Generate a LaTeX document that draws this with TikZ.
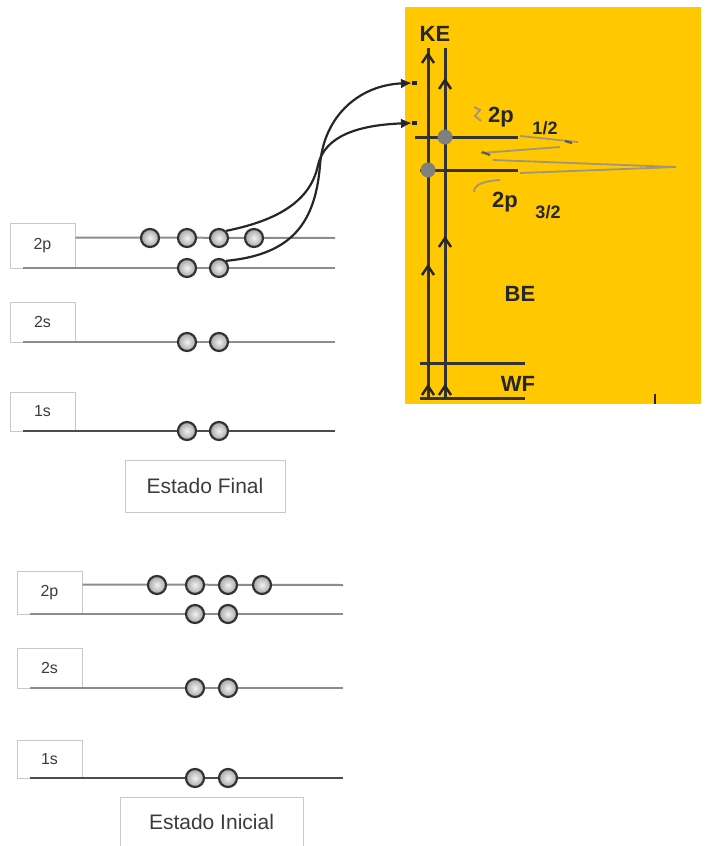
\documentclass[tikz,border=0pt]{standalone}
\usepackage{fontspec}
\setmainfont{Liberation Sans}
\usetikzlibrary{positioning}
\usetikzlibrary{arrows.meta}
\definecolor{xpsyellow}{HTML}{FFC800}
\definecolor{levelgray}{HTML}{8C8C8C}
\definecolor{boxgray}{HTML}{C8C8C8}
\definecolor{specgray}{HTML}{A09678}
\definecolor{textgray}{HTML}{3C3C3C}

\begin{document}
\begin{tikzpicture}[x=1pt, y=-1pt,
    every node/.style={font=\fontsize{16}{16}\selectfont, text=textgray},
    electron/.style={circle, draw=gray!40!black, line width=2.2pt, inner color=gray!10, outer color=gray!70, minimum size=18pt, inner sep=0pt},
    orbbox/.style={draw=boxgray, line width=1pt, fill=white, minimum width=65pt, inner sep=0pt},
    statebox/.style={draw=boxgray, line width=1pt, fill=white, inner sep=0pt, font=\fontsize{21}{21}\selectfont},
    level/.style={draw=levelgray, line width=2pt},
    deeplevel/.style={draw=gray!60!black, line width=2.4pt},
    axisline/.style={draw=black!80, line width=3pt},
    chev/.style={draw=black!85, line width=2.4pt},
    dot/.style={circle, fill=gray, minimum size=15pt, inner sep=0pt},
    bold/.style={font=\fontsize{22}{22}\selectfont\bfseries, text=black!85},
    sub/.style={font=\fontsize{18}{18}\selectfont\bfseries, text=black!85},
    spec/.style={draw=specgray, line width=1.8pt},
    trans/.style={draw=black!85, line width=2.2pt, -{Latex[length=11pt,width=10pt]}}]

    \useasboundingbox (0,0) rectangle (708,846);

    % Yellow panel
    \fill[xpsyellow] (405,7) rectangle (701,404);

    % Nodes: final state
    \node at (42.5,245.5) (f2pbox) [orbbox, minimum height=45pt] {2p};
    \node at (42.5,322) (f2sbox) [orbbox, minimum height=40pt] {2s};
    \node at (42.5,411.5) (f1sbox) [orbbox, minimum height=39pt] {1s};
    \node at (205,486) (final) [statebox, minimum width=160pt, minimum height=52pt] {Estado Final};

    \draw[level] ([yshift=-15pt]f2pbox.north east) -- (335,238);
    \draw[level] (23,268) -- (335,268);
    \draw[level] (23,342) -- (335,342);
    \draw[deeplevel] (23,431) -- (335,431);

    \foreach \x [count=\i] in {150,187,219,254}
        \node at (\x,238) (fa\i) [electron] {};
    \foreach \x [count=\i] in {187,219} {
        \node at (\x,268) (fb\i) [electron] {};
        \node at (\x,342) (fs\i) [electron] {};
        \node at (\x,431) (fk\i) [electron] {};
    }

    % Nodes: initial state
    \node at (49.5,592.5) (i2pbox) [orbbox, minimum height=43pt] {2p};
    \node at (49.5,668) (i2sbox) [orbbox, minimum height=40pt] {2s};
    \node at (49.5,759) (i1sbox) [orbbox, minimum height=38pt] {1s};
    \node at (211.5,821.5) (initial) [statebox, minimum width=183pt, minimum height=49pt] {Estado Inicial};

    \draw[level] ([yshift=-14pt]i2pbox.north east) -- (343,585);
    \draw[level] (30,614) -- (343,614);
    \draw[level] (30,688) -- (343,688);
    \draw[deeplevel] (30,778) -- (343,778);

    \foreach \x [count=\i] in {157,195,228,262}
        \node at (\x,585) (ia\i) [electron] {};
    \foreach \x [count=\i] in {195,228} {
        \node at (\x,614) (ib\i) [electron] {};
        \node at (\x,688) (is\i) [electron] {};
        \node at (\x,778) (ik\i) [electron] {};
    }

    % Energy scale
    \coordinate (ke1b) at (428,400);
    \coordinate (ke1t) at (428,48);
    \coordinate (ke2b) at (445,400);
    \coordinate (ke2t) at (445,48);
    \draw[axisline] (ke1b) -- (ke1t);
    \draw[axisline] (ke2b) -- (ke2t);
    \foreach \x/\y in {428/54, 428/266, 428/386, 445/80, 445/238, 445/386}
        \draw[chev] (\x-6,\y+9) -- (\x,\y) -- (\x+6,\y+9);

    \draw[axisline] (415,137) -- (518,137);
    \draw[axisline] (420,170) -- (518,170);
    \draw[axisline] (420,363) -- (525,363);
    \draw[axisline] (420,398) -- (525,398);
    \draw[chev] (655,394) -- (655,404);

    \node at (445,137) (d12) [dot] {};
    \node at (428,170) (d32) [dot] {};

    \node at (435,34) (ke) [bold] {KE};
    \node at (501,117) (p12) [bold] {2p};
    \node at (545,128) (h12) [sub] {1/2};
    \node at (505,202) (p32) [bold] {2p};
    \node at (548,212) (h32) [sub] {3/2};
    \node at (520,294) (be) [bold] {BE};
    \node at (518,384) (wf) [bold] {WF};

    % Spectrum
    \draw[spec] (520,136) -- (578,142);
    \draw[spec] (560,147) -- (481,153);
    \draw[spec] (493,160) -- (676,167) -- (520,173);
    \draw[spec] (500,180) .. controls (485,181) and (474,184) .. (474,192);
    \draw[spec] (474,107) -- (480,110) -- (475,116) -- (481,121);
    \draw[specgray!60!black, line width=2.2pt] (565,141) -- (572,143);
    \draw[specgray!60!black, line width=2.2pt] (482,152) -- (490,155);

    % Arrows
    \coordinate (tipA) at (412,83);
    \coordinate (stubA) at (417,83);
    \coordinate (tipB) at (412,123);
    \coordinate (stubB) at (417,123);
    \draw[trans] (fb2.north east) .. controls (285,255) and (315,230) .. (320,165)
        .. controls (324,115) and (360,85) .. (tipA);
    \draw[trans] (fa3.north east) .. controls (270,222) and (310,205) .. (318,165)
        .. controls (325,135) and (360,125) .. (tipB);
    \draw[black!85, line width=3.2pt] (tipA) -- (stubA);
    \draw[black!85, line width=3.2pt] (tipB) -- (stubB);

\end{tikzpicture}
\end{document}
